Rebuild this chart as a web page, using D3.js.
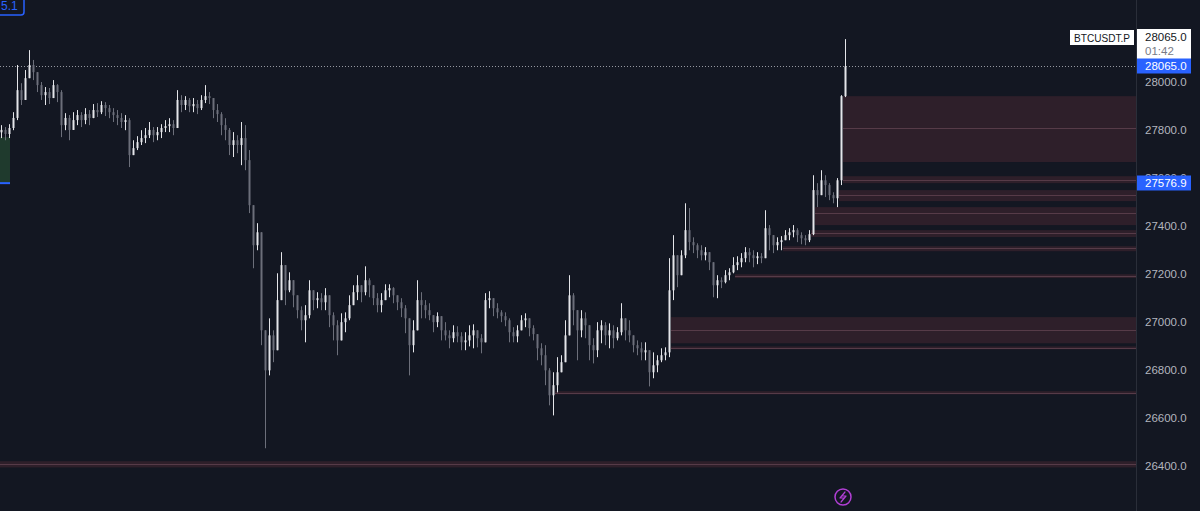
<!DOCTYPE html>
<html>
<head>
<meta charset="utf-8">
<script src="https://cdn.jsdelivr.net/npm/d3@7"></script>
<style>
html, body { margin: 0; padding: 0; background: #131722; overflow: hidden; }
svg { display: block; }
</style>
</head>
<body>
<script>
// BTCUSDT.P candles, open of each bar = close of the bar before
var firstOpen = 27790;
var closes = [
  27800,27783,27808,27850,27966,27925,28016,28071,28041,27987,
  27945,27958,27933,27987,27958,27820,27850,27800,27841,27862,
  27841,27866,27850,27883,27874,27904,27891,27874,27862,27850,
  27833,27841,27695,27724,27749,27766,27778,27800,27778,27791,
  27808,27816,27824,27808,27925,27904,27925,27899,27908,27891,
  27925,27941,27933,27883,27866,27820,27800,27737,27757,27737,
  27766,27674,27486,27319,27373,26964,26797,26943,26881,27090,
  27236,27131,27173,27110,27048,27006,27027,27131,27090,27098,
  27081,27110,27027,26985,26922,26998,27014,27069,27123,27152,
  27123,27173,27152,27098,27069,27090,27131,27140,27110,27081,
  27056,27014,26902,26964,27090,27069,27048,27027,26998,27023,
  26964,26943,26931,26956,26939,26914,26922,26943,26964,26931,
  26914,27090,27098,27056,27039,27023,27006,26956,26939,26964,
  27006,27014,26973,26948,26889,26860,26797,26693,26735,26789,
  26831,26943,27110,27048,26964,27014,26985,26902,26881,26964,
  26985,26943,26964,26931,26956,27014,26964,26943,26902,26889,
  26872,26881,26789,26818,26839,26860,26872,27131,27277,27194,
  27277,27382,27332,27319,27298,27277,27290,27248,27152,27173,
  27165,27194,27206,27236,27248,27265,27290,27277,27265,27273,
  27265,27390,27361,27319,27332,27340,27361,27373,27382,27361,
  27348,27340,27365,27549,27528,27590,27570,27528,27515,27590,
  27941,28065
];
var highs = [
  27820,27812,27824,27874,28071,27995,28050,28133,28092,28016,
  28000,27979,27975,28008,27991,27966,27870,27862,27874,27883,
  27874,27891,27883,27908,27912,27920,27916,27904,27891,27883,
  27870,27862,27849,27757,27774,27799,27808,27833,27812,27812,
  27824,27841,27849,27841,27966,27945,27941,27933,27933,27925,
  27945,27987,27958,27925,27908,27874,27849,27808,27791,27778,
  27833,27820,27716,27361,27411,27369,26943,27014,26964,27202,
  27290,27223,27206,27160,27110,27064,27069,27173,27131,27123,
  27119,27140,27090,27039,27006,27035,27039,27110,27152,27194,
  27152,27231,27181,27152,27119,27119,27156,27156,27144,27110,
  27098,27069,26985,27006,27173,27123,27090,27077,27027,27039,
  27014,26998,26964,26985,26981,26956,26956,26985,26989,26964,
  26948,27119,27127,27090,27077,27048,27039,27014,26977,26985,
  27027,27035,27006,26985,26935,26910,26902,26806,26789,26852,
  26860,27006,27194,27119,27048,27048,27039,26943,26931,26998,
  27006,26998,26993,26985,26977,27077,27014,27006,26931,26922,
  26914,26914,26881,26872,26860,26889,26893,27265,27361,27265,
  27298,27494,27474,27352,27327,27319,27311,27286,27227,27194,
  27185,27215,27223,27269,27273,27286,27311,27307,27298,27290,
  27286,27465,27403,27348,27352,27357,27382,27390,27403,27390,
  27373,27361,27382,27611,27578,27632,27611,27578,27540,27599,
  27945,28179
];
var lows = [
  27766,27757,27766,27799,27841,27904,27954,28020,28008,27958,
  27925,27904,27908,27937,27916,27770,27799,27757,27808,27820,
  27812,27824,27820,27849,27854,27866,27858,27849,27833,27820,
  27808,27799,27645,27695,27716,27737,27745,27766,27749,27757,
  27766,27791,27791,27778,27820,27874,27883,27874,27874,27866,
  27883,27912,27908,27849,27833,27778,27757,27695,27687,27703,
  27653,27632,27453,27223,27298,26902,26472,26776,26831,26902,
  27131,27069,27123,27060,27014,26964,26914,27014,27048,27056,
  27048,27048,26977,26922,26860,26943,26956,27006,27069,27090,
  27081,27110,27102,27069,27039,27039,27098,27102,27077,27048,
  27019,26952,26776,26872,26985,27014,27014,27006,26956,26977,
  26922,26922,26889,26914,26914,26881,26881,26897,26889,26893,
  26868,26922,27056,27023,27014,26998,26981,26914,26914,26914,
  26964,26977,26939,26922,26839,26818,26735,26651,26609,26705,
  26789,26839,26964,26985,26839,26935,26931,26839,26826,26852,
  26910,26902,26889,26889,26922,26943,26922,26914,26872,26860,
  26839,26839,26730,26764,26789,26831,26839,26852,27090,27144,
  27236,27265,27298,27286,27265,27256,27256,27215,27102,27098,
  27140,27160,27173,27202,27215,27227,27248,27248,27227,27240,
  27244,27265,27298,27286,27298,27298,27340,27340,27352,27332,
  27323,27319,27332,27361,27478,27536,27520,27507,27494,27478,
  27570,27937
];

var priceTicks = [28200, 28000, 27800, 27600, 27400, 27200, 27000, 26800, 26600, 26400];

// supply zones: bar index where each starts, price top / bottom / middle line
var zoneStart  = [211, 211, 210, 204, 203, 196, 184, 168, 168, 139, -1];
var zoneTop    = [27941, 27607, 27549, 27478, 27382, 27315, 27198, 27019, 26897, 26710, 26418];
var zoneBottom = [27666, 27578, 27503, 27403, 27353, 27294, 27182, 26910, 26885, 26697, 26392];
var zoneMid    = [27808, 27590, 27528, 27453, 27369, 27307, 27190, 26964, 26891, 26703, 26405];

// green box at the left edge
var leftBoxTop = 27770, leftBoxBottom = 27578, leftBoxEnd = 2.25;

var symbol = "BTCUSDT.P";
var lastPrice = 28065.0;
var countdown = "01:42";
var markPrice = 27576.9;

var W = 1200, H = 511, axisX = 1136;

var bars = closes.map(function (c, i) {
    var o = i === 0 ? firstOpen : closes[i - 1];
    return {
        i: i, o: o, c: c,
        h: Math.max(highs[i], o, c),
        l: Math.min(lows[i], o, c)
    };
});

var x = d3.scaleLinear().domain([0, bars.length - 1]).range([1, 845]);
var y = d3.scaleLinear().domain([26400, 28000]).range([465.5, 82]);

var svg = d3.select("body").append("svg")
    .attr("width", W)
    .attr("height", H)
    .style("font-family", "'Liberation Sans', Arial, sans-serif");

svg.append("rect").attr("width", W).attr("height", H).attr("fill", "#131722");

svg.append("clipPath").attr("id", "plot")
    .append("rect").attr("x", 0).attr("y", 0).attr("width", axisX).attr("height", H);

var plot = svg.append("g").attr("clip-path", "url(#plot)");

// zones
var zones = plot.append("g").selectAll("g")
    .data(zoneStart.map(function (s, k) {
        return { s: s, top: zoneTop[k], bottom: zoneBottom[k], mid: zoneMid[k] };
    }))
    .enter().append("g");

zones.append("rect")
    .attr("x", function (d) { return x(d.s) - 2; })
    .attr("y", function (d) { return y(d.top); })
    .attr("width", function (d) { return axisX - x(d.s) + 2; })
    .attr("height", function (d) { return y(d.bottom) - y(d.top); })
    .attr("fill", "#2e1f2a");

zones.append("line")
    .attr("x1", function (d) { return x(d.s) - 2; })
    .attr("x2", axisX)
    .attr("y1", function (d) { return Math.round(y(d.mid)) + 0.5; })
    .attr("y2", function (d) { return Math.round(y(d.mid)) + 0.5; })
    .attr("stroke", "#563b48")
    .attr("stroke-width", 1);

// left green box
plot.append("rect")
    .attr("x", 0)
    .attr("y", y(leftBoxTop))
    .attr("width", x(leftBoxEnd))
    .attr("height", y(leftBoxBottom) - y(leftBoxTop))
    .attr("fill", "#1f3a2d");
plot.append("line")
    .attr("x1", 0).attr("x2", x(leftBoxEnd))
    .attr("y1", y(leftBoxBottom)).attr("y2", y(leftBoxBottom))
    .attr("stroke", "#2962ff").attr("stroke-width", 2);

// last price dotted line
plot.append("line")
    .attr("x1", 0).attr("x2", axisX)
    .attr("y1", Math.round(y(lastPrice)) + 0.5).attr("y2", Math.round(y(lastPrice)) + 0.5)
    .attr("stroke", "#9598a1")
    .attr("stroke-dasharray", "1,2");

// candles
var upCol = "#e4e5e9", downCol = "#6c6f7a";
var candle = plot.append("g").selectAll("g").data(bars).enter().append("g");

candle.append("line")
    .attr("x1", function (d) { return Math.round(x(d.i)) + 0.5; })
    .attr("x2", function (d) { return Math.round(x(d.i)) + 0.5; })
    .attr("y1", function (d) { return y(d.h); })
    .attr("y2", function (d) { return y(d.l); })
    .attr("stroke", function (d) { return d.c >= d.o ? upCol : downCol; })
    .attr("stroke-width", 1);

candle.append("rect")
    .attr("x", function (d) { return Math.round(x(d.i)) - 0.5; })
    .attr("y", function (d) { return y(Math.max(d.o, d.c)); })
    .attr("width", 2)
    .attr("height", function (d) { return Math.max(1, Math.abs(y(d.o) - y(d.c))); })
    .attr("fill", function (d) { return d.c >= d.o ? upCol : downCol; });

// price axis
svg.append("line")
    .attr("x1", axisX + 0.5).attr("x2", axisX + 0.5)
    .attr("y1", 0).attr("y2", H)
    .attr("stroke", "#2a2e39");

var axis = svg.append("g")
    .attr("transform", "translate(" + axisX + ",0)")
    .call(d3.axisRight(y).tickValues(priceTicks).tickFormat(d3.format(".1f")).tickSize(0).tickPadding(9));
axis.select(".domain").remove();
axis.selectAll("text")
    .attr("fill", "#b2b5be")
    .style("font-size", "11.5px")
    .style("font-family", "'Liberation Sans', Arial, sans-serif");

// price labels on the axis
function axisTag(price, fill, color, h) {
    var yy = Math.round(y(price));
    svg.append("rect")
        .attr("x", axisX + 1).attr("y", yy - h / 2)
        .attr("width", 54).attr("height", h)
        .attr("fill", fill);
    svg.append("text")
        .attr("x", axisX + 9).attr("y", yy + 4)
        .attr("fill", color)
        .style("font-size", "11.5px")
        .text(d3.format(".1f")(price));
}

// white box with price and countdown
var yl = Math.round(y(lastPrice));
svg.append("rect")
    .attr("x", axisX + 1).attr("y", yl - 37)
    .attr("width", 54).attr("height", 30)
    .attr("fill", "#ffffff");
svg.append("text")
    .attr("x", axisX + 9).attr("y", yl - 25)
    .attr("fill", "#131722").style("font-size", "11.5px")
    .text(d3.format(".1f")(lastPrice));
svg.append("text")
    .attr("x", axisX + 9).attr("y", yl - 11)
    .attr("fill", "#787b86").style("font-size", "11.5px")
    .text(countdown);
axisTag(lastPrice, "#2962ff", "#ffffff", 15);
axisTag(markPrice, "#2962ff", "#ffffff", 15);

// symbol label
svg.append("rect")
    .attr("x", 1070).attr("y", yl - 36)
    .attr("width", 64).attr("height", 15)
    .attr("fill", "#ffffff");
svg.append("text")
    .attr("x", 1102).attr("y", yl - 24.5)
    .attr("text-anchor", "middle")
    .attr("fill", "#131722").style("font-size", "10.5px")
    .attr("textLength", 56).attr("lengthAdjust", "spacingAndGlyphs")
    .text(symbol);

// clipped label at the top left
svg.append("rect")
    .attr("x", -12).attr("y", -4)
    .attr("width", 36).attr("height", 19).attr("rx", 3)
    .attr("fill", "#131722").attr("stroke", "#2962ff").attr("stroke-width", 1.5);
svg.append("text")
    .attr("x", 1).attr("y", 10)
    .attr("fill", "#2962ff").style("font-size", "12px")
    .text("5.1");

// lightning marker below the last bar
var lx = x(bars.length - 1) - 2, ly = 497;
svg.append("circle")
    .attr("cx", lx).attr("cy", ly).attr("r", 8)
    .attr("fill", "none").attr("stroke", "#b23fd6").attr("stroke-width", 1.5);
svg.append("path")
    .attr("d", "M" + (lx + 2) + "," + (ly - 5) + " L" + (lx - 3) + "," + (ly + 1) +
        " L" + (lx + 1) + "," + (ly + 1) + " L" + (lx - 2) + "," + (ly + 5) +
        " L" + (lx + 3) + "," + (ly - 1) + " L" + (lx - 1) + "," + (ly - 1) + " Z")
    .attr("fill", "none").attr("stroke", "#b23fd6").attr("stroke-width", 1.2)
    .attr("stroke-linejoin", "round");
</script>
</body>
</html>
